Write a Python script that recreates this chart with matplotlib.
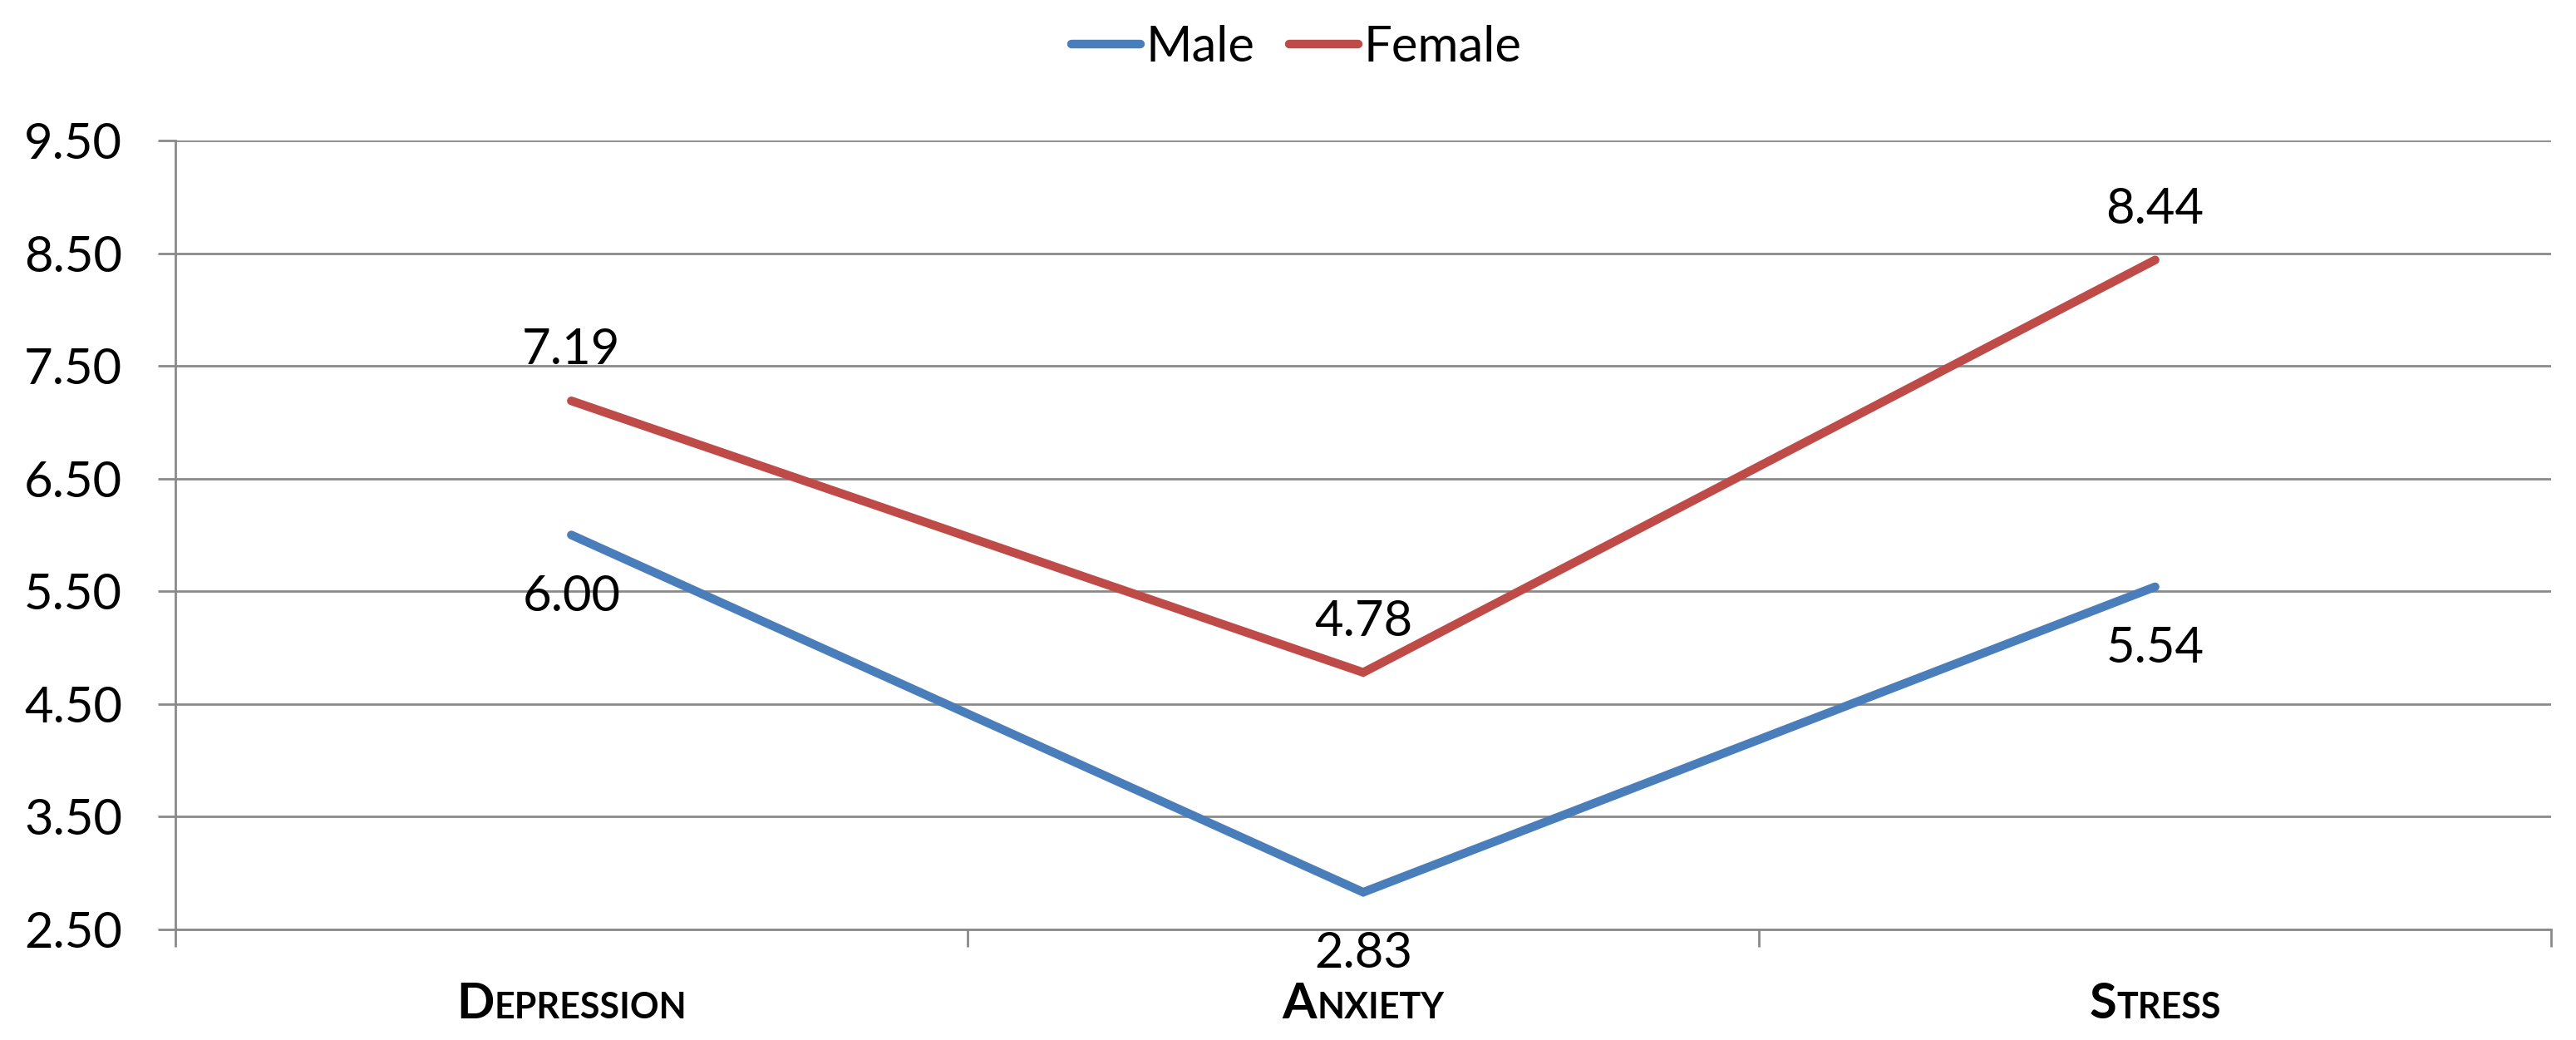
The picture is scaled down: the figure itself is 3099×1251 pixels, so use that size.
import matplotlib
matplotlib.use('Agg')
import matplotlib.pyplot as plt
import matplotlib.transforms as mtransforms
import numpy as np

plt.rcParams['font.family'] = ['Lato', 'DejaVu Sans']

categories = ['Depression', 'Anxiety', 'Stress']
male = [6.00, 2.83, 5.54]
female = [7.19, 4.78, 8.44]
yticks = [2.5, 3.5, 4.5, 5.5, 6.5, 7.5, 8.5, 9.5]

blue = '#4A7EBB'
red = '#BE4B48'
grid_c = '#8A8A8A'

fig = plt.figure(figsize=(30.99, 12.51), dpi=100)
ax = fig.add_axes([211 / 3099, 1 - 1118 / 1251, (3069 - 211) / 3099, (1118 - 169) / 1251])

x = np.arange(len(categories))
ax.plot(x, male, color=blue, lw=7.5, solid_capstyle='round', solid_joinstyle='miter', label='Male', zorder=3)
ax.plot(x, female, color=red, lw=7.5, solid_capstyle='round', solid_joinstyle='miter', label='Female', zorder=3)

ax.set_xlim(-0.5, len(categories) - 0.5)
ax.set_ylim(2.5, 9.5)
ax.set_yticks(yticks)
ax.set_yticklabels(['%.2f' % v for v in yticks])
ax.grid(axis='y', color=grid_c, lw=2)
ax.set_axisbelow(True)
for s in ['top', 'right']:
    ax.spines[s].set_visible(False)
ax.spines['left'].set_color(grid_c)
ax.spines['left'].set_linewidth(2)
ax.spines['bottom'].set_color(grid_c)
ax.spines['bottom'].set_linewidth(2)
ax.tick_params(axis='y', length=15, width=2, color=grid_c, pad=31, labelsize=43)
ax.set_xticks(np.arange(len(categories) + 1) - 0.5)
ax.set_xticklabels([])
ax.tick_params(axis='x', length=15, width=2, color=grid_c)

# data labels (offsets in points, dpi 100)
for i in range(len(categories)):
    ax.annotate('%.2f' % female[i], (x[i], female[i]), xytext=(0, 44 * 0.72),
                textcoords='offset points', ha='center', va='baseline', fontsize=43)
    ax.annotate('%.2f' % male[i], (x[i], male[i]), xytext=(0, -91 * 0.72),
                textcoords='offset points', ha='center', va='baseline', fontsize=43)

# small caps category labels
trans = mtransforms.blended_transform_factory(ax.transData, fig.transFigure)
base_y = 26 / 1251
fig.canvas.draw()
renderer = fig.canvas.get_renderer()
for i, name in enumerate(categories):
    t1 = ax.text(x[i], base_y, name[0].upper(), fontsize=43, fontweight='bold',
                 ha='left', va='baseline', transform=trans, clip_on=False)
    t2 = ax.text(x[i], base_y, name[1:].upper(), fontsize=31, fontweight='bold',
                 ha='left', va='baseline', transform=trans, clip_on=False)
    w1 = t1.get_window_extent(renderer).width
    w2 = t2.get_window_extent(renderer).width
    w = w1 + w2
    t1.set_transform(trans + mtransforms.ScaledTranslation(-w / 2 / 100, 0, fig.dpi_scale_trans))
    t2.set_transform(trans + mtransforms.ScaledTranslation((-w / 2 + w1) / 100, 0, fig.dpi_scale_trans))

fig.legend(loc='center', bbox_to_anchor=(1560 / 3099, 1 - 57 / 1251), ncol=2, frameon=False,
           fontsize=43, handlelength=1.38, handletextpad=0.12, columnspacing=0.7,
           borderpad=0, borderaxespad=0)

fig.savefig('out.png', dpi=100, facecolor='white')
